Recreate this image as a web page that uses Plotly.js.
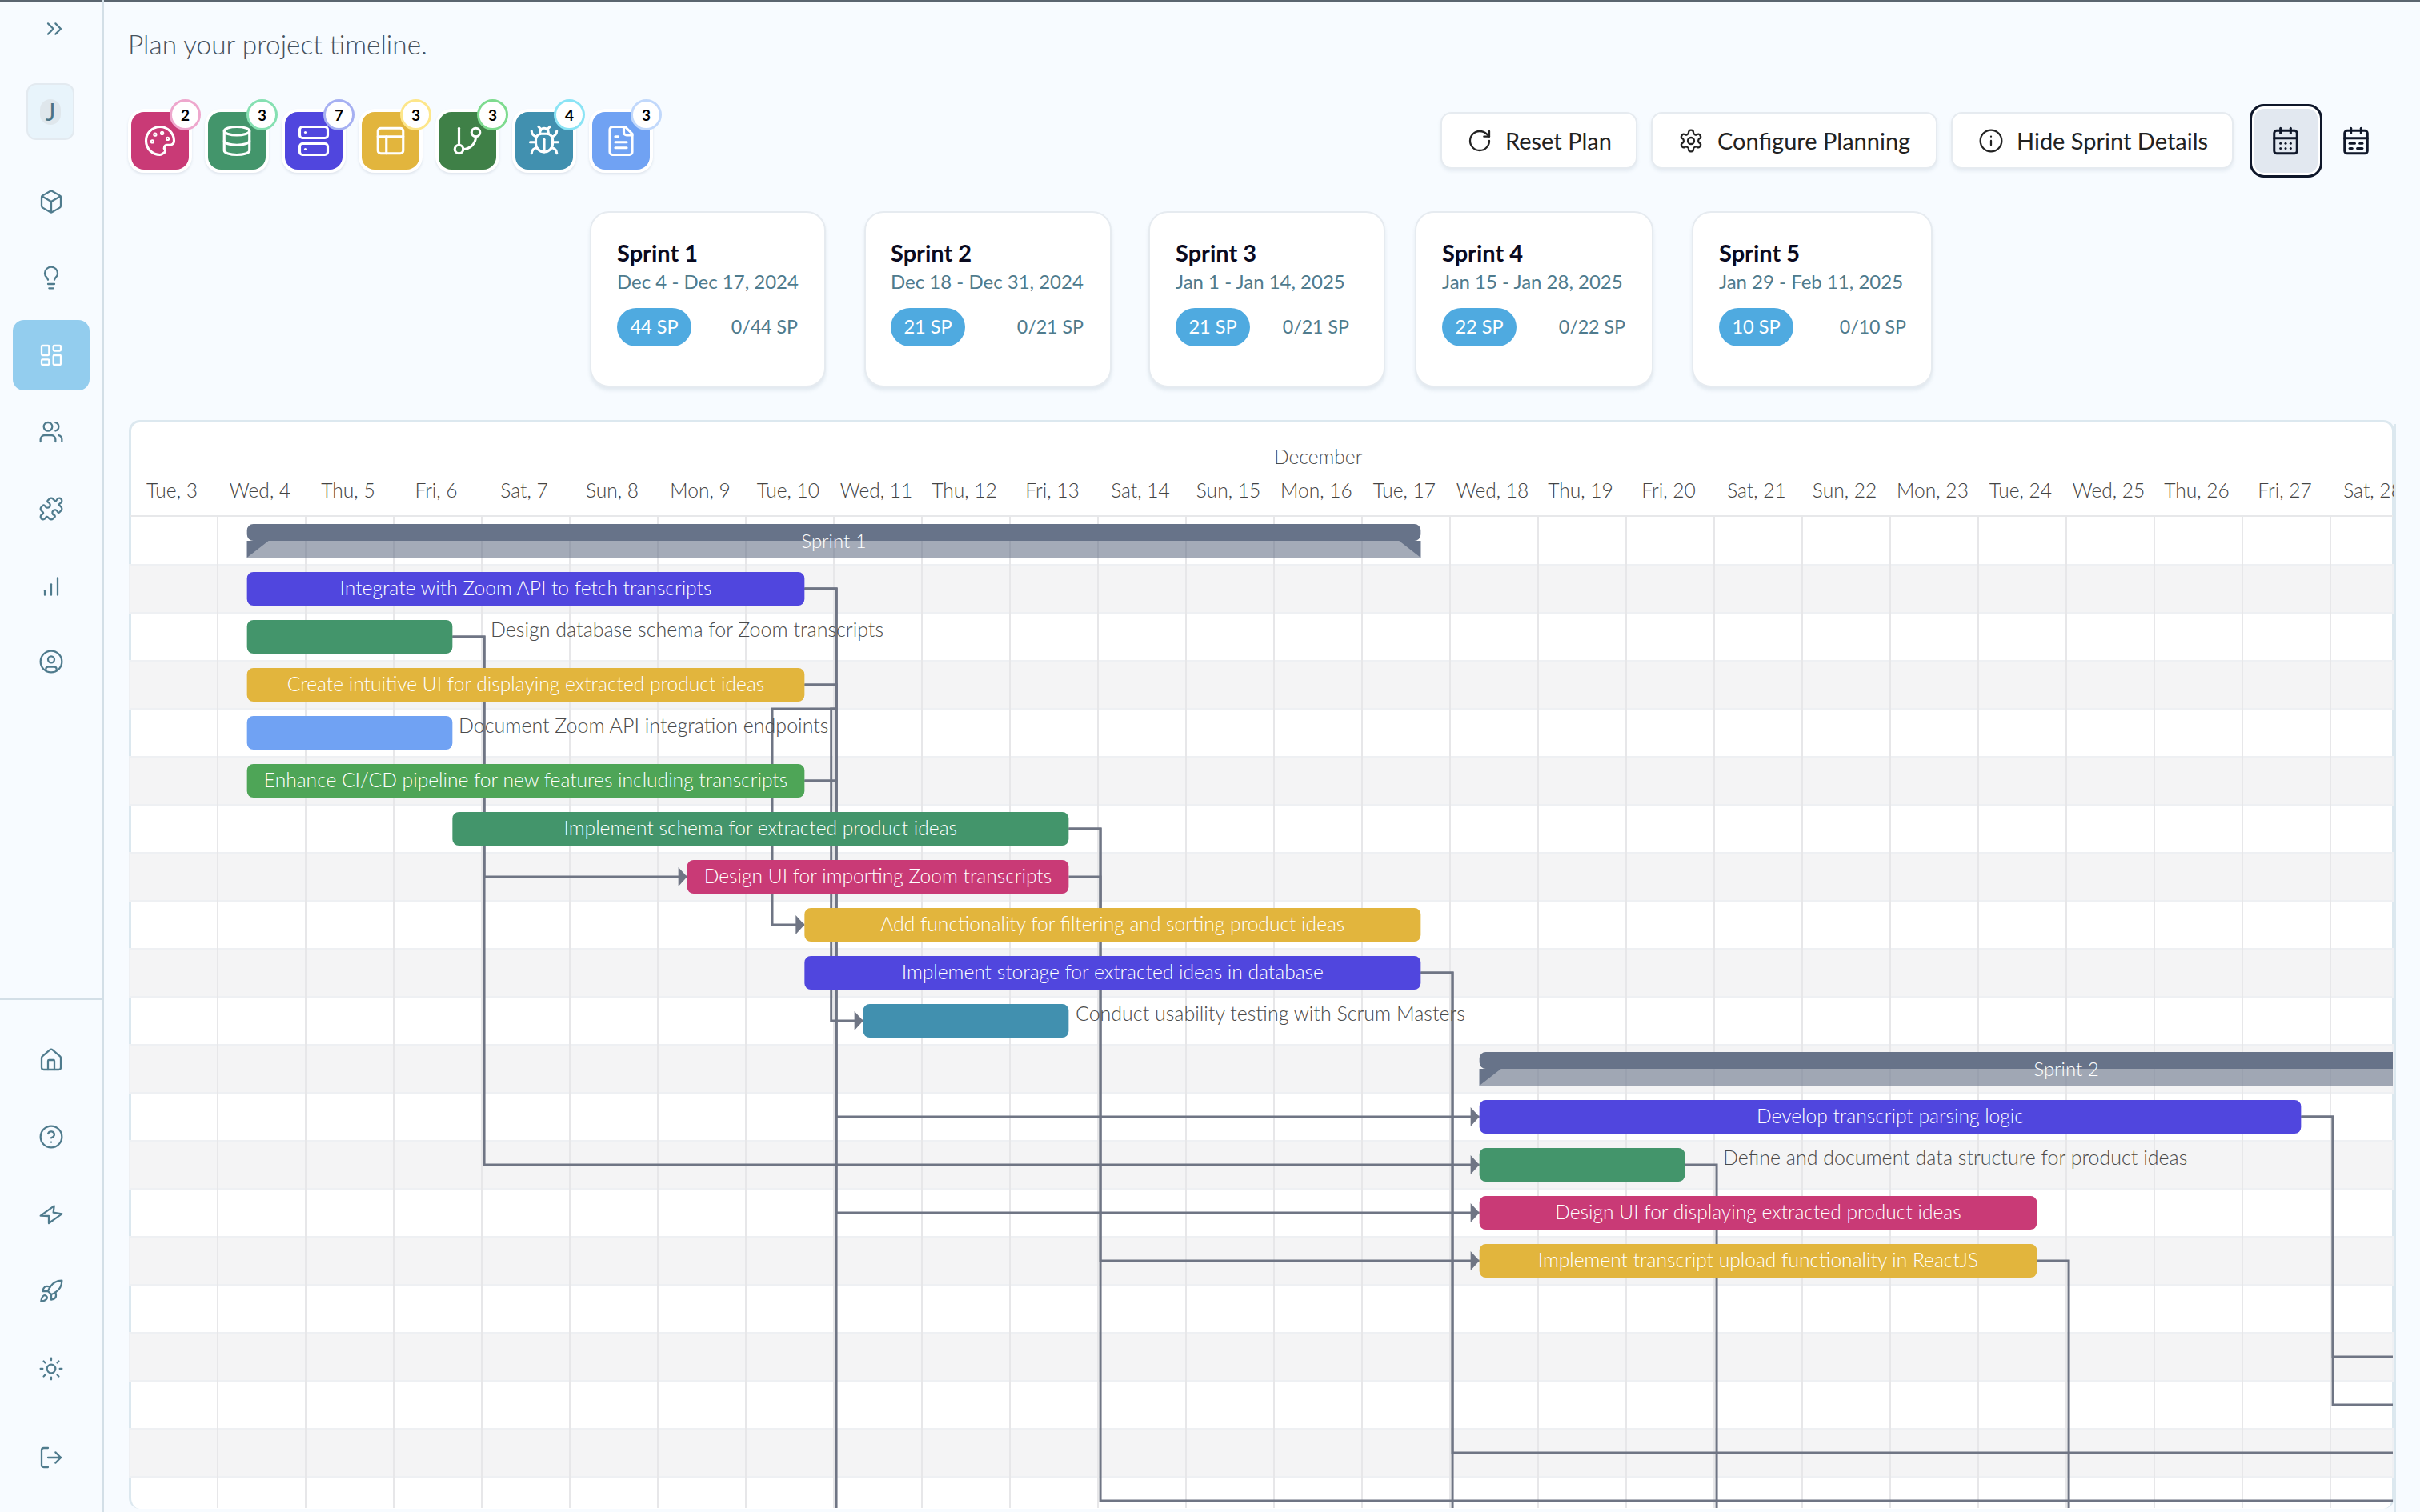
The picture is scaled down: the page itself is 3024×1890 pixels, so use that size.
<!DOCTYPE html>
<html><head><meta charset="utf-8">
<script src="https://cdn.plot.ly/plotly-3.0.1.min.js"></script>
<style>
html,body{margin:0;padding:0;width:3024px;height:1890px;overflow:hidden;background:#f7fbff;font-family:Lato,"Open Sans",sans-serif;font-weight:300;}
.abs{position:absolute;white-space:nowrap;}
.card{position:absolute;background:#fff;box-sizing:border-box;border:2px solid #e6ebf0;border-radius:24px;box-shadow:0 4px 4px rgba(120,140,160,.16);}
.btn{position:absolute;background:#fff;box-sizing:border-box;border:2px solid #e6ebf0;border-radius:14px;box-shadow:0 3px 4px rgba(120,140,160,.14);height:71px;top:140px;color:#222;font-size:29px;line-height:67px;font-weight:400}
svg{position:absolute;overflow:visible;}
#chart{position:absolute;left:0;top:0;width:3024px;height:1890px;z-index:2;}
</style></head><body>
<div class="abs" style="left:0;top:0;width:3024px;height:2px;background:#5b6670"></div>
<div class="abs" style="left:0;top:0;width:127px;height:1890px;border-right:3px solid #d3dfe7"></div>
<div class="abs" style="left:0;top:1248px;width:127px;height:2px;background:#d3dfe7"></div>
<div class="abs" style="left:16px;top:400px;width:96px;height:88px;border-radius:14px;background:#93cdee"></div>
<div class="abs" style="left:33px;top:104px;width:60px;height:71px;box-sizing:border-box;border-radius:12px;background:#e8f4fb;border:2px solid #e3eaf0;"></div>
<div class="abs" style="left:50px;top:124px;width:26px;height:32px;border-radius:13px;background:#dfe7ec;color:#4b7486;font-size:30px;line-height:31px;text-align:center;font-weight:400">J</div>
<div class="abs" style="left:160px;top:30px;font-size:33.4px;line-height:50px;color:#46525e;">Plan your project timeline.</div>
<div class="abs" style="left:161px;top:525px;width:2831px;height:1361px;box-sizing:border-box;background:#fff;border:3px solid #dce8ef;border-radius:14px;border-bottom:none;"></div>
<div id="chrome"></div>
<div id="chart"></div>
<div class="abs" style="left:2991px;top:530px;width:33px;height:1360px;background:#f7fbff;z-index:3;border-left:3px solid #dce8ef"></div>
<script>
// ----- chart data -----
const rowLabels = ["Sprint 1","Integrate with Zoom API to fetch transcripts","Design database schema for Zoom transcripts","Create intuitive UI for displaying extracted product ideas","Document Zoom API integration endpoints","Enhance CI/CD pipeline for new features including transcripts","Implement schema for extracted product ideas","Design UI for importing Zoom transcripts","Add functionality for filtering and sorting product ideas","Implement storage for extracted ideas in database","Conduct usability testing with Scrum Masters","Sprint 2","Develop transcript parsing logic","Define and document data structure for product ideas","Design UI for displaying extracted product ideas","Implement transcript upload functionality in ReactJS"];
const taskRows   = [1,2,3,4,5,6,7,8,9,10,12,13,14,15];
const taskStarts = ["2024-12-04 08:00","2024-12-04 08:00","2024-12-04 08:00","2024-12-04 08:00","2024-12-04 08:00","2024-12-06 16:00","2024-12-09 08:00","2024-12-10 16:00","2024-12-10 16:00","2024-12-11 08:00","2024-12-18 08:00","2024-12-18 08:00","2024-12-18 08:00","2024-12-18 08:00"];
const taskEnds   = ["2024-12-10 16:00","2024-12-06 16:00","2024-12-10 16:00","2024-12-06 16:00","2024-12-10 16:00","2024-12-13 16:00","2024-12-13 16:00","2024-12-17 16:00","2024-12-17 16:00","2024-12-13 16:00","2024-12-27 16:00","2024-12-20 16:00","2024-12-24 16:00","2024-12-24 16:00"];
const taskColors = ["#5046de","#43956b","#e2b53d","#70a2f3","#4ea557","#43956b","#c93a76","#e2b53d","#5046de","#4190af","#5046de","#43956b","#c93a76","#e2b53d"];
const insideRows  = [1,3,5,6,7,8,9,12,14,15];
const outsideRows = [2,4,10,13];
const outsideAt   = ["2024-12-07 02:24","2024-12-06 17:40","2024-12-13 17:53","2024-12-21 02:24"];
const sprintRows   = [0,11];
const sprintStarts = ["2024-12-04 08:00","2024-12-18 08:00"];
const sprintEnds   = ["2024-12-17 16:00","2024-12-31 16:00"];
const monthLabel = "December";
// dependency routes: [row of the predecessor, its end, elbow, row of the successor, successor start]
const links = [
 [1,"2024-12-10 16:00","2024-12-11 00:40",12,"2024-12-18 08:00"],
 [1,"2024-12-10 16:00","2024-12-11 00:40",14,"2024-12-18 08:00"],
 [1,"2024-12-10 16:00","2024-12-11 00:40",22,"2025-01-03 00:00"],
 [3,"2024-12-10 16:00","2024-12-11 00:40",5,"2024-12-10 16:00"],
 [5,"2024-12-10 16:00","2024-12-11 00:40",6,"2024-12-10 16:00"],
 [2,"2024-12-06 16:00","2024-12-07 00:40",7,"2024-12-09 08:00"],
 [2,"2024-12-06 16:00","2024-12-07 00:40",13,"2024-12-18 08:00"],
 [6,"2024-12-13 16:00","2024-12-14 00:40",15,"2024-12-18 08:00"],
 [6,"2024-12-13 16:00","2024-12-14 00:40",20,"2025-01-03 00:00"],
 [7,"2024-12-13 16:00","2024-12-14 00:40",8,"2024-12-13 16:00"],
 [9,"2024-12-17 16:00","2024-12-18 00:40",19,"2025-01-03 00:00"],
 [9,"2024-12-17 16:00","2024-12-18 00:40",22,"2025-01-03 00:00"],
 [13,"2024-12-20 16:00","2024-12-21 00:40",22,"2025-01-03 00:00"],
 [15,"2024-12-24 16:00","2024-12-25 00:40",22,"2025-01-03 00:00"],
 [12,"2024-12-27 16:00","2024-12-28 00:40",17,"2025-01-03 00:00"],
 [12,"2024-12-27 16:00","2024-12-28 00:40",18,"2025-01-03 00:00"]
];
// routes that double back before reaching their successor: x then row, in turn
const backLinks = [
 {x:["2024-12-10 16:00","2024-12-11 00:40","2024-12-11 00:40","2024-12-10 07:12","2024-12-10 07:12","2024-12-10 16:00"],y:[3,3,3.5,3.5,8,8]},
 {x:["2024-12-11 00:40","2024-12-10 23:17","2024-12-10 23:17","2024-12-11 08:00"],y:[3.5,3.5,10,10]}
];
const arrowRows  = [12,14,7,13,15,8,10];
const arrowTips  = ["2024-12-18 08:00","2024-12-18 08:00","2024-12-09 08:00","2024-12-18 08:00","2024-12-18 08:00","2024-12-10 16:00","2024-12-11 08:00"];
// page furniture
const sprintNames  = ["Sprint 1","Sprint 2","Sprint 3","Sprint 4","Sprint 5"];
const sprintDates  = ["Dec 4 - Dec 17, 2024","Dec 18 - Dec 31, 2024","Jan 1 - Jan 14, 2025","Jan 15 - Jan 28, 2025","Jan 29 - Feb 11, 2025"];
const sprintPoints = [44,21,21,22,10];
const cardLefts  = [737,1080,1435,1768,2114];
const cardRights = [1032,1389,1731,2066,2415];
const contentLefts  = [771,1113,1469,1802,2148];
const contentRights = [997,1354,1686,2031,2382];
const tileColors = ["#c93a76","#43956b","#5046de","#e2b53d","#3f8047","#4190af","#70a2f3"];
const badgeRings = ["#eea7cd","#86e0b2","#a6b0f2","#fde68a","#7edb8f","#8be4f5","#c1d8fb"];
const badgeCounts= [2,3,7,3,3,4,3];
const tileIcons  = ["palette","database","server","layout","branch","bug","file"];
const railIcons  = [["box",252],["bulb",347],["dash",444],["users",540],["puzzle",636],["bars",733],["user",827],["home",1325],["help",1421],["zap",1518],["rocket",1614],["sun",1711],["logout",1822]];

const ICONS={
chev:'<path d="m6 17 5-5-5-5"/><path d="m13 17 5-5-5-5"/>',
box:'<path d="M21 8a2 2 0 0 0-1-1.73l-7-4a2 2 0 0 0-2 0l-7 4A2 2 0 0 0 3 8v8a2 2 0 0 0 1 1.73l7 4a2 2 0 0 0 2 0l7-4A2 2 0 0 0 21 16Z"/><path d="m3.3 7 8.7 5 8.7-5"/><path d="M12 22V12"/>',
bulb:'<path d="M15 14c.2-1 .7-1.7 1.5-2.5 1-.9 1.5-2.2 1.5-3.5A6 6 0 0 0 6 8c0 1 .2 2.2 1.5 3.5.7.7 1.3 1.5 1.5 2.5"/><path d="M9 18h6"/><path d="M10 22h4"/>',
dash:'<rect x="3" y="3" width="7" height="9" rx="1"/><rect x="14" y="3" width="7" height="5" rx="1"/><rect x="14" y="12" width="7" height="9" rx="1"/><rect x="3" y="16" width="7" height="5" rx="1"/>',
users:'<path d="M16 21v-2a4 4 0 0 0-4-4H6a4 4 0 0 0-4 4v2"/><circle cx="9" cy="7" r="4"/><path d="M22 21v-2a4 4 0 0 0-3-3.87"/><path d="M16 3.13a4 4 0 0 1 0 7.75"/>',
puzzle:'<path d="M19.439 7.85c-.049.322.059.648.289.878l1.568 1.568c.47.47.706 1.087.706 1.704s-.235 1.233-.706 1.704l-1.611 1.611a.98.98 0 0 1-.837.276c-.47-.07-.802-.48-.968-.925a2.501 2.501 0 1 0-3.214 3.214c.446.166.855.497.925.968a.979.979 0 0 1-.276.837l-1.61 1.61a2.404 2.404 0 0 1-1.705.707 2.402 2.402 0 0 1-1.704-.706l-1.568-1.568a1.026 1.026 0 0 0-.877-.29c-.493.074-.84.504-1.02.968a2.5 2.5 0 1 1-3.237-3.237c.464-.18.894-.527.967-1.02a1.026 1.026 0 0 0-.289-.877l-1.568-1.568A2.402 2.402 0 0 1 1.998 12c0-.617.236-1.234.706-1.704L4.23 8.77c.24-.24.581-.353.917-.303.515.077.877.528 1.073 1.01a2.5 2.5 0 1 0 3.259-3.259c-.482-.196-.933-.558-1.01-1.073-.05-.336.062-.676.303-.917l1.525-1.525A2.402 2.402 0 0 1 12 1.998c.617 0 1.234.236 1.704.706l1.568 1.568c.23.23.556.338.877.29.493-.074.84-.504 1.02-.968a2.5 2.5 0 1 1 3.237 3.237c-.464.18-.894.527-.967 1.02Z"/>',
bars:'<path d="M6 20v-4"/><path d="M12 20V10"/><path d="M18 20V4"/>',
user:'<circle cx="12" cy="12" r="10"/><circle cx="12" cy="10" r="3"/><path d="M7 20.662V19a2 2 0 0 1 2-2h6a2 2 0 0 1 2 2v1.662"/>',
home:'<path d="M15 21v-8a1 1 0 0 0-1-1h-4a1 1 0 0 0-1 1v8"/><path d="M3 10a2 2 0 0 1 .709-1.528l7-5.999a2 2 0 0 1 2.582 0l7 5.999A2 2 0 0 1 21 10v9a2 2 0 0 1-2 2H5a2 2 0 0 1-2-2z"/>',
help:'<circle cx="12" cy="12" r="10"/><path d="M9.09 9a3 3 0 0 1 5.83 1c0 2-3 3-3 3"/><path d="M12 17h.01"/>',
zap:'<path d="M2 13.25 14.75 4 14 10.25 22 11.5 9.75 20.25 9.75 13.5Z"/>',
rocket:'<path d="M4.5 16.5c-1.5 1.26-2 5-2 5s3.74-.5 5-2c.71-.84.7-2.13-.09-2.91a2.18 2.18 0 0 0-2.91-.09z"/><path d="m12 15-3-3a22 22 0 0 1 2-3.95A12.88 12.88 0 0 1 22 2c0 2.72-.78 7.5-6 11a22.35 22.35 0 0 1-4 2z"/><path d="M9 12H4s.55-3.03 2-4c1.62-1.08 5 0 5 0"/><path d="M12 15v5s3.03-.55 4-2c1.08-1.62 0-5 0-5"/>',
sun:'<circle cx="12" cy="12" r="4"/><path d="M12 2v2"/><path d="M12 20v2"/><path d="m4.93 4.93 1.41 1.41"/><path d="m17.66 17.66 1.41 1.41"/><path d="M2 12h2"/><path d="M20 12h2"/><path d="m6.34 17.66-1.41 1.41"/><path d="m19.07 4.93-1.41 1.41"/>',
logout:'<path d="M9 21H5a2 2 0 0 1-2-2V5a2 2 0 0 1 2-2h4"/><path d="m16 17 5-5-5-5"/><path d="M21 12H9"/>',
palette:'<path d="M12 22a10 10 0 1 1 10-10c0 2-1.5 3-3 3h-2a2 2 0 0 0-1.5 3.3c.5.7.2 1.7-.5 2.2-.8.5-1.9 1.5-3 1.5z"/><circle cx="13.5" cy="6.5" r=".6"/><circle cx="17.5" cy="10.5" r=".6"/><circle cx="8.5" cy="7.5" r=".6"/><circle cx="6.5" cy="12.5" r=".6"/>',
database:'<ellipse cx="12" cy="5" rx="9" ry="3"/><path d="M3 5v14a9 3 0 0 0 18 0V5"/><path d="M3 12a9 3 0 0 0 18 0"/>',
server:'<rect x="2" y="2" width="20" height="8" rx="2"/><rect x="2" y="14" width="20" height="8" rx="2"/><path d="M6 6h.01"/><path d="M6 18h.01"/>',
layout:'<rect x="3" y="3" width="18" height="18" rx="2"/><path d="M3 9h18"/><path d="M9 21V9"/>',
branch:'<path d="M6 3v12"/><circle cx="18" cy="6" r="3"/><circle cx="6" cy="18" r="3"/><path d="M18 9a9 9 0 0 1-9 9"/>',
bug:'<path d="m8 2 1.88 1.88"/><path d="M14.12 3.88 16 2"/><path d="M9 7.13v-1a3.003 3.003 0 1 1 6 0v1"/><path d="M12 20c-3.3 0-6-2.7-6-6v-3a4 4 0 0 1 4-4h4a4 4 0 0 1 4 4v3c0 3.3-2.7 6-6 6"/><path d="M12 20v-9"/><path d="M6.53 9C4.6 8.8 3 7.1 3 5"/><path d="M6 13H2"/><path d="M3 21c0-2.1 1.7-3.9 3.8-4"/><path d="M20.97 5c0 2.1-1.6 3.8-3.5 4"/><path d="M22 13h-4"/><path d="M17.2 17c2.1.1 3.8 1.9 3.8 4"/>',
file:'<path d="M15 2H6a2 2 0 0 0-2 2v16a2 2 0 0 0 2 2h12a2 2 0 0 0 2-2V7Z"/><path d="M14 2v4a2 2 0 0 0 2 2h4"/><path d="M10 9H8"/><path d="M16 13H8"/><path d="M16 17H8"/>',
rotate:'<path d="M21 12a9 9 0 1 1-9-9c2.52 0 4.93 1 6.74 2.74L21 8"/><path d="M21 3v5h-5"/>',
gear:'<path d="M12.22 2h-.44a2 2 0 0 0-2 2v.18a2 2 0 0 1-1 1.73l-.43.25a2 2 0 0 1-2 0l-.15-.08a2 2 0 0 0-2.73.73l-.22.38a2 2 0 0 0 .73 2.73l.15.1a2 2 0 0 1 1 1.72v.51a2 2 0 0 1-1 1.74l-.15.09a2 2 0 0 0-.73 2.73l.22.38a2 2 0 0 0 2.73.73l.15-.08a2 2 0 0 1 2 0l.43.25a2 2 0 0 1 1 1.73V20a2 2 0 0 0 2 2h.44a2 2 0 0 0 2-2v-.18a2 2 0 0 1 1-1.73l.43-.25a2 2 0 0 1 2 0l.15.08a2 2 0 0 0 2.73-.73l.22-.39a2 2 0 0 0-.73-2.73l-.15-.08a2 2 0 0 1-1-1.74v-.5a2 2 0 0 1 1-1.74l.15-.09a2 2 0 0 0 .73-2.73l-.22-.38a2 2 0 0 0-2.73-.73l-.15.08a2 2 0 0 1-2 0l-.43-.25a2 2 0 0 1-1-1.73V4a2 2 0 0 0-2-2z"/><circle cx="12" cy="12" r="3"/>',
info:'<circle cx="12" cy="12" r="10"/><path d="M12 16v-4"/><path d="M12 8h.01"/>',
cal:'<path d="M8 2v4"/><path d="M16 2v4"/><rect x="3" y="4" width="18" height="18" rx="2"/><path d="M3 10h18"/><path d="M8 14h.01"/><path d="M12 14h.01"/><path d="M16 14h.01"/><path d="M8 18h.01"/><path d="M12 18h.01"/><path d="M16 18h.01"/>',
cal2:'<path d="M8 2v4"/><path d="M16 2v4"/><rect x="3" y="4" width="18" height="18" rx="2"/><path d="M3 10h18"/><path d="M7 14h4"/><path d="M15 14h2"/><path d="M7 18h2"/><path d="M13 18h4"/>'
};
const chrome=document.getElementById('chrome');
function icon(name,cx,cy,size,color,sw){
  chrome.insertAdjacentHTML('beforeend',`<svg viewBox="0 0 24 24" width="${size}" height="${size}" style="left:${cx-size/2}px;top:${cy-size/2}px;z-index:1" fill="none" stroke="${color}" stroke-width="${sw}" stroke-linecap="round" stroke-linejoin="round">${ICONS[name]}</svg>`);
}
icon('chev',68,36,32,'#4f7b8d',1.7);
railIcons.forEach(r=>icon(r[0],64,r[1],32,r[0]==='dash'?'#fff':'#4f7b8d',1.7));
tileColors.forEach((c,i)=>{
  const x=164+96*i;
  chrome.insertAdjacentHTML('beforeend',`<div class="abs" style="left:${x-4}px;top:136px;width:80px;height:80px;border-radius:20px;background:#fff;box-shadow:0 2px 3px rgba(120,140,160,.18)"></div><div class="abs" style="left:${x}px;top:140px;width:72px;height:72px;border-radius:16px;background:${c}"></div>`);
  icon(tileIcons[i],x+36,176,42,'#fff',1.8);
  chrome.insertAdjacentHTML('beforeend',`<div class="abs" style="left:${x+48}px;top:124px;width:39px;height:39px;box-sizing:border-box;border-radius:50%;background:#fff;border:3px solid ${badgeRings[i]};color:#000;font-size:19px;font-weight:700;line-height:33px;text-align:center">${badgeCounts[i]}</div>`);
});
[["Reset Plan","rotate",1800,246,1879],["Configure Planning","gear",2063,358,2144],["Hide Sprint Details","info",2438,353,2518]].forEach(b=>{
  chrome.insertAdjacentHTML('beforeend',`<div class="btn" style="left:${b[2]}px;width:${b[3]}px"><span class="abs" style="left:${b[4]-b[2]}px;top:0">${b[0]}</span></div>`);
});
icon('rotate',1849,176,32,'#222',1.7);icon('gear',2113,176,32,'#222',1.7);icon('info',2488,176,32,'#222',1.7);
chrome.insertAdjacentHTML('beforeend',`<div class="abs" style="left:2811px;top:130px;width:91px;height:92px;box-sizing:border-box;border-radius:18px;background:#e2e8f0;border:3px solid #0f172a;box-shadow:inset 0 0 0 3px #fff"></div>`);
icon('cal',2856,176,38,'#0f172a',1.9);icon('cal2',2944,176,38,'#0f172a',1.9);
sprintNames.forEach((n,i)=>{
  const L=cardLefts[i],R=cardRights[i],cl=contentLefts[i],cr=contentRights[i];
  chrome.insertAdjacentHTML('beforeend',`<div class="card" style="left:${L}px;top:264px;width:${R-L}px;height:220px"></div>
  <div class="abs" style="left:${cl}px;top:296px;font-size:29px;line-height:40px;font-weight:700;color:#0a0a1e">${n}</div>
  <div class="abs" style="left:${cl}px;top:335px;font-size:24px;line-height:34px;color:#4f7b8d;font-weight:400">${sprintDates[i]}</div>
  <div class="abs" style="left:${cl}px;top:385px;width:93px;height:48px;border-radius:24px;background:#4faae0;color:#fff;font-size:23.5px;line-height:47px;text-align:center;font-weight:400">${sprintPoints[i]} SP</div>
  <div class="abs" style="right:${3024-cr}px;top:391px;font-size:23.2px;line-height:34px;color:#4f7b8d;font-weight:400">0/${sprintPoints[i]} SP</div>`);
});

// ----- helpers on the date scale -----
const DAY=86400000, T=s=>Date.parse(s.replace(' ','T')+':00Z'), S=ms=>new Date(ms).toISOString().slice(0,19).replace('T',' ');
const pxPerDay=110, pxPerRow=60;
const xPx=(s,px)=>S(T(s)+px/pxPerDay*DAY);

// task bars
const mids=taskStarts.map((s,i)=>(T(s)+T(taskEnds[i]))/2);
const durations=taskStarts.map((s,i)=>T(taskEnds[i])-T(s));
const midStr=mids.map(S);
const tasks={type:'bar',orientation:'h',name:'tasks',y:taskRows,base:taskStarts,x:durations,width:0.7,xaxis:'x2',yaxis:'y2',hoverinfo:'skip',showlegend:false,marker:{color:taskColors,cornerradius:8,line:{width:0}}};

// sprint banners: dark upper half, translucent lower half
const sMid=sprintStarts.map((s,i)=>(T(s)+T(sprintEnds[i]))/2), sDur=sprintStarts.map((s,i)=>T(sprintEnds[i])-T(s));
const sprintCommon={type:'bar',orientation:'h',y:sprintRows,base:sprintStarts,x:sDur,xaxis:'x2',yaxis:'y2',hoverinfo:'skip',showlegend:false};
const sprintTop=Object.assign({},sprintCommon,{width:0.35,offset:-0.35,marker:{color:'#677389',cornerradius:8,line:{width:0}}});
const sprintLow=Object.assign({},sprintCommon,{width:0.35,offset:0,marker:{color:'rgba(103,115,137,0.6)',line:{width:0}}});
const wx=[],wy=[];
sprintRows.forEach((r,i)=>{
  wx.push(sprintStarts[i],xPx(sprintStarts[i],27),sprintStarts[i],sprintStarts[i],null, sprintEnds[i],xPx(sprintEnds[i],-27),sprintEnds[i],sprintEnds[i],null);
  wy.push(r,r,r+0.35,r,null, r,r,r+0.35,r,null);
});
const wedges={type:'scatter',mode:'lines',x:wx,y:wy,fill:'toself',fillcolor:'#677389',line:{width:0},xaxis:'x2',yaxis:'y2',hoverinfo:'skip',showlegend:false};

// connectors
const lx=[],ly=[];
links.forEach(l=>{lx.push(l[1],l[2],l[2],l[4],null);ly.push(l[0],l[0],l[3],l[3],null);});
backLinks.forEach(b=>{lx.push(...b.x,null);ly.push(...b.y,null);});
const lines={type:'scatter',mode:'lines',x:lx,y:ly,line:{color:'#6f7584',width:3,shape:'linear'},hoverinfo:'skip',showlegend:false,xaxis:'x',yaxis:'y'};
const ax=[],ay=[];
arrowRows.forEach((r,i)=>{const tip=arrowTips[i],b=xPx(tip,-11);ax.push(b,tip,b,b,null);ay.push(r-12/pxPerRow,r,r+12/pxPerRow,r-12/pxPerRow,null);});
const arrows={type:'scatter',mode:'lines',x:ax,y:ay,fill:'toself',fillcolor:'#6f7584',line:{width:0},hoverinfo:'skip',showlegend:false,xaxis:'x',yaxis:'y'};

// labels
const FONT='Lato, sans-serif', W=300;
const inLabels={type:'scatter',mode:'text',x:insideRows.map(r=>midStr[taskRows.indexOf(r)]),y:insideRows.map(r=>r+2/pxPerRow),text:insideRows.map(r=>rowLabels[r]),textposition:'middle center',textfont:{family:FONT,size:24.6,color:'#fff',weight:W},hoverinfo:'skip',showlegend:false,xaxis:'x2',yaxis:'y2'};
const outLabels={type:'scatter',mode:'text',x:outsideAt,y:outsideRows.map(r=>r-6/pxPerRow),text:outsideRows.map(r=>rowLabels[r]),textposition:'middle right',textfont:{family:FONT,size:25,color:'#4a4a4a',weight:W},hoverinfo:'skip',showlegend:false,xaxis:'x2',yaxis:'y2'};
const sprintLabels={type:'scatter',mode:'text',x:sMid.map(S),y:sprintRows.map(r=>r+3/pxPerRow),text:sprintRows.map(r=>rowLabels[r]),textposition:'middle center',textfont:{family:FONT,size:24,color:'#ffffff',weight:W},hoverinfo:'skip',showlegend:false,xaxis:'x2',yaxis:'y2'};

const rowCount=21;
const shapes=[];
for(let r=0;r<rowCount;r++){ if(r%2===1) shapes.push({type:'rect',layer:'below',xref:'paper',yref:'y',x0:0,x1:1,y0:r-0.5,y1:r+0.5,fillcolor:'#f4f4f5',line:{color:'#eef0f3',width:2}}); }

const xRange=["2024-12-03 00:00","2024-12-28 17:01"], yRange=[20.15,-0.5];
const layout={
  width:3024,height:1890,margin:{l:162,r:34,t:646,b:5,pad:0},autosize:false,
  paper_bgcolor:'rgba(0,0,0,0)',plot_bgcolor:'rgba(0,0,0,0)',
  font:{family:FONT,size:23,color:'#4a4a4a'},showlegend:false,barmode:'overlay',
  xaxis:{type:'date',side:'top',range:xRange,tick0:"2024-12-03",dtick:DAY,tickformat:'%a, %-d',ticklabelmode:'period',ticklabelshift:-2,ticks:'',showgrid:true,gridcolor:'#e7e7e9',gridwidth:2,showline:true,linecolor:'#e7e8ea',linewidth:2,zeroline:false,tickfont:{family:FONT,size:24.6,color:'#444',weight:W},ticklabelstandoff:12,automargin:false,fixedrange:true},
  yaxis:{range:yRange,showgrid:false,zeroline:false,showticklabels:false,ticks:'',fixedrange:true},
  xaxis2:{type:'date',overlaying:'x',side:'top',range:xRange,visible:false,fixedrange:true},
  yaxis2:{overlaying:'y',range:yRange,visible:false,fixedrange:true},
  shapes,
  annotations:[{text:monthLabel,xref:'x',yref:'paper',x:"2024-12-16 12:00",y:1+(646-570)/1239,showarrow:false,xanchor:'center',yanchor:'middle',font:{family:FONT,size:24.6,color:'#4a4a4a',weight:W}}]
};
Plotly.newPlot('chart',[lines,arrows,sprintLow,sprintTop,tasks,wedges,inLabels,outLabels,sprintLabels],layout,{displayModeBar:false,staticPlot:true});
</script>
</body></html>
